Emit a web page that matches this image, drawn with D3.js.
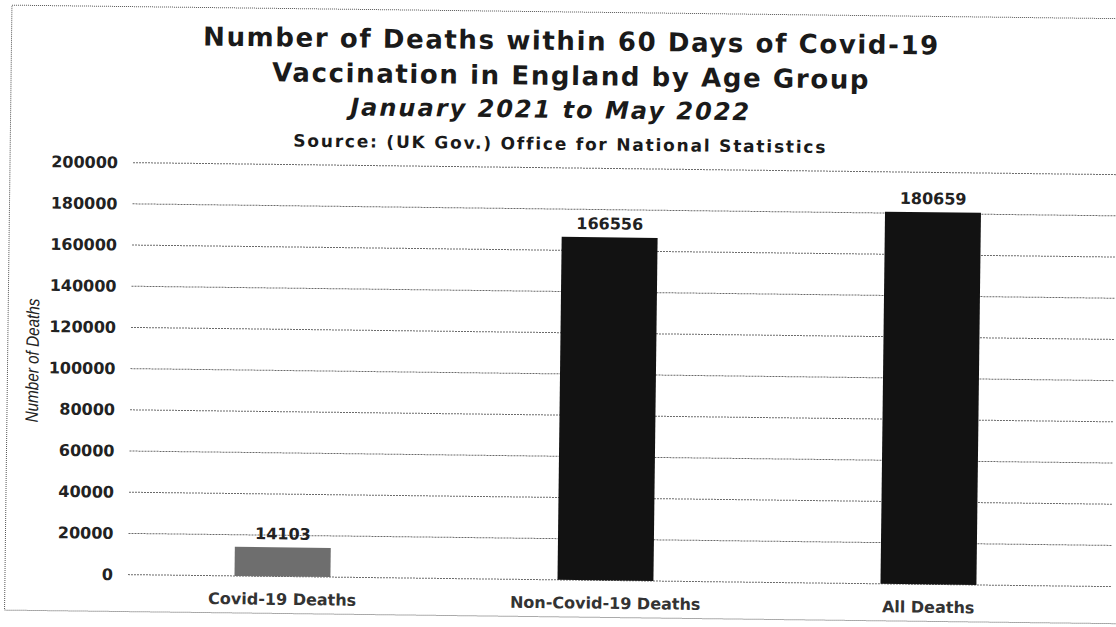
<!DOCTYPE html>
<html>
<head>
<meta charset="utf-8">
<script src="https://cdn.jsdelivr.net/npm/d3@7"></script>
<style>
  html, body { margin: 0; padding: 0; background: #fff; }
  svg { display: block; }
</style>
</head>
<body>
<svg id="chart"></svg>
<script>
const width = 1116;
const height = 627;

// --- Data ---
const categories = ["Covid-19 Deaths", "Non-Covid-19 Deaths", "All Deaths"];
const deaths = [14103, 166556, 180659];
const barColors = ["#6e6e6e", "#121212", "#121212"];
const yTicks = [0, 20000, 40000, 60000, 80000, 100000, 120000, 140000, 160000, 180000, 200000];
const titleLines = [
  "Number of Deaths within 60 Days of Covid-19",
  "Vaccination in England by Age Group"
];
const subtitle = "January 2021 to May 2022";
const source = "Source: (UK Gov.) Office for National Statistics";

const font = "'DejaVu Sans', Verdana, sans-serif";

const svg = d3.select("#chart")
  .attr("width", width)
  .attr("height", height);

// the page is a slightly skewed scan
const g = svg.append("g")
  .attr("transform", "rotate(0.7, 0, 0)");

// outer dotted frame
g.append("rect")
  .attr("x", 12).attr("y", 5)
  .attr("width", 1120).attr("height", 605)
  .attr("fill", "none")
  .attr("stroke", "#555")
  .attr("stroke-width", 1)
  .attr("stroke-dasharray", "1,1");

// --- Scales ---
const y = d3.scaleLinear()
  .domain([0, 200000])
  .range([573, 161]);

const x = d3.scaleBand()
  .domain(categories)
  .range([80, 1145])
  .paddingInner(0.703)
  .paddingOuter(0.5);

// --- Gridlines ---
g.append("g")
  .selectAll("line")
  .data(yTicks)
  .join("line")
  .attr("x1", 135)
  .attr("x2", 1118)
  .attr("y1", d => y(d))
  .attr("y2", d => y(d))
  .attr("stroke", "#6a6a6a")
  .attr("stroke-width", 1)
  .attr("stroke-dasharray", "2,1");

// --- Y axis labels ---
const yAxis = g.append("g")
  .attr("transform", "translate(124,0)")
  .call(d3.axisLeft(y).tickValues(yTicks).tickSize(0).tickPadding(4).tickFormat(d3.format("d")));
yAxis.select(".domain").remove();
yAxis.selectAll("text")
  .attr("font-family", font)
  .attr("font-weight", "bold")
  .attr("font-size", 16)
  .attr("fill", "#222");

g.append("text")
  .attr("transform", `translate(43, 360) rotate(-90)`)
  .attr("text-anchor", "middle")
  .attr("font-family", "'Liberation Sans', Arial, sans-serif")
  .attr("font-style", "italic")
  .attr("font-size", 18)
  .attr("textLength", 124)
  .attr("lengthAdjust", "spacingAndGlyphs")
  .attr("fill", "#222")
  .text("Number of Deaths");

// --- Bars ---
g.append("g")
  .selectAll("rect")
  .data(deaths)
  .join("rect")
  .attr("x", (d, i) => x(categories[i]))
  .attr("y", d => y(d))
  .attr("width", x.bandwidth())
  .attr("height", d => y(0) - y(d))
  .attr("fill", (d, i) => barColors[i]);

// value labels
g.append("g")
  .selectAll("text")
  .data(deaths)
  .join("text")
  .attr("x", (d, i) => x(categories[i]) + x.bandwidth() / 2)
  .attr("y", d => y(d) - 8)
  .attr("text-anchor", "middle")
  .attr("font-family", font)
  .attr("font-weight", "bold")
  .attr("font-size", 16)
  .attr("fill", "#222")
  .text(d => d);

// --- X axis labels ---
const xAxis = g.append("g")
  .attr("transform", `translate(0, ${y(0)})`)
  .call(d3.axisBottom(x).tickSize(0).tickPadding(17));
xAxis.select(".domain").remove();
xAxis.selectAll("text")
  .attr("font-family", font)
  .attr("font-weight", "bold")
  .attr("font-size", 16)
  .attr("fill", "#333");

// --- Titles ---
g.append("g")
  .selectAll("text")
  .data(titleLines)
  .join("text")
  .attr("x", 572)
  .attr("y", (d, i) => 43 + i * 35)
  .attr("text-anchor", "middle")
  .attr("font-family", font)
  .attr("font-weight", "bold")
  .attr("font-size", 26)
  .attr("letter-spacing", 1.6)
  .attr("fill", "#1a1a1a")
  .text(d => d);

g.append("text")
  .attr("x", 552)
  .attr("y", 111)
  .attr("text-anchor", "middle")
  .attr("font-family", font)
  .attr("font-weight", "bold")
  .attr("font-style", "italic")
  .attr("font-size", 24)
  .attr("letter-spacing", 2)
  .attr("fill", "#1a1a1a")
  .text(subtitle);

g.append("text")
  .attr("x", 562)
  .attr("y", 143)
  .attr("text-anchor", "middle")
  .attr("font-family", font)
  .attr("font-weight", "bold")
  .attr("font-size", 17)
  .attr("letter-spacing", 1.8)
  .attr("fill", "#1a1a1a")
  .text(source);
</script>
</body>
</html>
